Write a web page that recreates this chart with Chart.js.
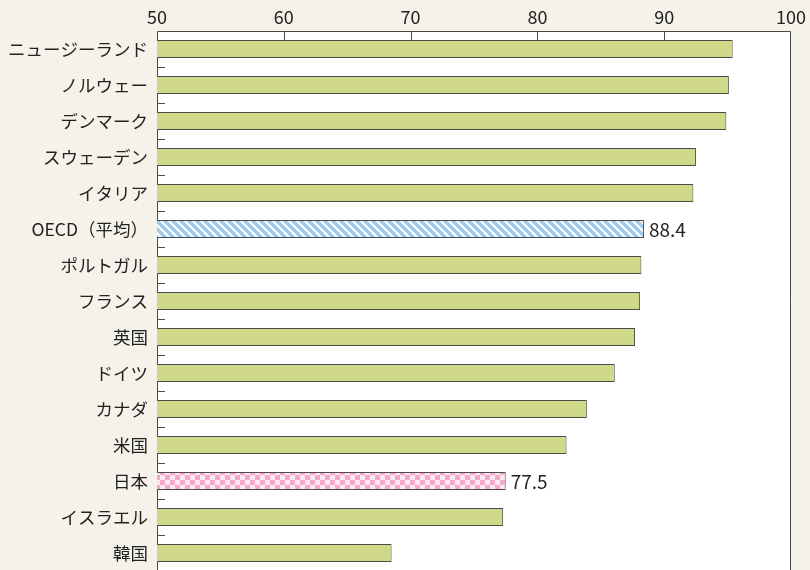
<!DOCTYPE html>
<html>
<head>
<meta charset="utf-8">
<script src="https://cdn.jsdelivr.net/npm/chart.js@4"></script>
<style>
  html, body { margin: 0; padding: 0; background: #f5f2ea; overflow: hidden; }
  #wrap { width: 810px; height: 571px; }
</style>
</head>
<body>
<div id="wrap"><canvas id="chart"></canvas></div>
<script>
// data
const countries = ["ニュージーランド", "ノルウェー", "デンマーク", "スウェーデン", "イタリア", "OECD（平均）", "ポルトガル", "フランス", "英国", "ドイツ", "カナダ", "米国", "日本", "イスラエル", "韓国"]
const values = [95.4, 95.1, 94.9, 92.5, 92.3, 88.4, 88.2, 88.1, 87.7, 86.1, 83.9, 82.3, 77.5, 77.3, 68.5]
const xTicks = [50, 60, 70, 80, 90, 100]
const labelled = ["OECD（平均）", "日本"]

const FONT = "'Noto Sans CJK JP', 'Noto Sans', sans-serif"
const LINE = "#4a4a4a"

function stripePattern() {
    const c = document.createElement("canvas")
    c.width = 8
    c.height = 8
    const g = c.getContext("2d")
    g.fillStyle = "#ffffff"
    g.fillRect(0, 0, 8, 8)
    g.strokeStyle = "#9ccaee"
    g.lineWidth = 3.4
    g.beginPath()
    g.moveTo(-2, -2); g.lineTo(10, 10)
    g.moveTo(-10, -2); g.lineTo(2, 10)
    g.moveTo(6, -2); g.lineTo(18, 10)
    g.stroke()
    return g.createPattern(c, "repeat")
}

function checkPattern() {
    const c = document.createElement("canvas")
    c.width = 10
    c.height = 10
    const g = c.getContext("2d")
    g.fillStyle = "#fde8f1"
    g.fillRect(0, 0, 10, 10)
    g.fillStyle = "#f4a8ca"
    g.fillRect(0, 0, 5, 5)
    g.fillRect(5, 5, 5, 5)
    return g.createPattern(c, "repeat")
}

const fills = countries.map((c) => {
    if (c === "OECD（平均）") return stripePattern()
    if (c === "日本") return checkPattern()
    return "#d0d98a"
})

// white plot area, frame and the little inside ticks
const framePlugin = {
    id: "frame",
    beforeDatasetsDraw(chart) {
        const { ctx, chartArea: a, scales } = chart
        ctx.save()
        ctx.fillStyle = "#ffffff"
        ctx.fillRect(a.left, a.top, a.right - a.left, a.bottom - a.top)
        ctx.strokeStyle = LINE
        ctx.lineWidth = 1
        ctx.beginPath()
        ctx.moveTo(a.left + 0.5, a.bottom)
        ctx.lineTo(a.left + 0.5, a.top + 0.5)
        ctx.lineTo(a.right - 0.5, a.top + 0.5)
        ctx.lineTo(a.right - 0.5, a.bottom)
        // x ticks pointing down
        xTicks.slice(1, -1).forEach((v) => {
            const x = Math.round(scales.x.getPixelForValue(v)) + 0.5
            ctx.moveTo(x, a.top)
            ctx.lineTo(x, a.top + 9)
        })
        // category boundaries on the left axis
        for (let i = 0; i < countries.length - 1; i++) {
            const y = Math.round((scales.y.getPixelForValue(i) + scales.y.getPixelForValue(i + 1)) / 2) + 0.5
            ctx.moveTo(a.left, y)
            ctx.lineTo(a.left + 8, y)
        }
        ctx.stroke()
        ctx.restore()
    },
    afterDatasetsDraw(chart) {
        const { ctx } = chart
        const meta = chart.getDatasetMeta(0)
        ctx.save()
        ctx.fillStyle = "#222"
        ctx.font = "19px " + FONT
        ctx.textBaseline = "middle"
        countries.forEach((c, i) => {
            if (!labelled.includes(c)) return
            const bar = meta.data[i]
            ctx.fillText(values[i].toFixed(1), bar.x + 5, bar.y + 1)
        })
        ctx.restore()
    },
}

new Chart(document.getElementById("chart"), {
    type: "bar",
    data: {
        labels: countries,
        datasets: [
            {
                data: values,
                backgroundColor: fills,
                borderColor: LINE,
                borderWidth: 1,
                borderSkipped: false,
                categoryPercentage: 1,
                barPercentage: 0.5,
            },
        ],
    },
    options: {
        indexAxis: "y",
        responsive: true,
        maintainAspectRatio: false,
        animation: false,
        layout: { padding: { left: 0, right: 19, top: 0, bottom: 0 } },
        plugins: {
            legend: { display: false },
            tooltip: { enabled: false },
        },
        scales: {
            x: {
                position: "top",
                min: 50,
                max: 100,
                afterBuildTicks: (scale) => {
                    scale.ticks = xTicks.map((v) => ({ value: v }))
                },
                afterFit: (scale) => {
                    scale.height = 31
                },
                grid: { display: false, drawTicks: false },
                border: { display: false },
                ticks: {
                    color: "#222",
                    padding: 3,
                    maxRotation: 0,
                    font: { family: FONT, size: 18 },
                },
            },
            y: {
                afterFit: (scale) => {
                    scale.width = 157
                    scale.paddingTop = 0
                    scale.paddingBottom = 0
                },
                grid: { display: false, drawTicks: false },
                border: { display: false },
                ticks: {
                    color: "#222",
                    padding: 9,
                    autoSkip: false,
                    font: { family: FONT, size: 17.5 },
                },
            },
        },
    },
    plugins: [framePlugin],
})
</script>
</body>
</html>
